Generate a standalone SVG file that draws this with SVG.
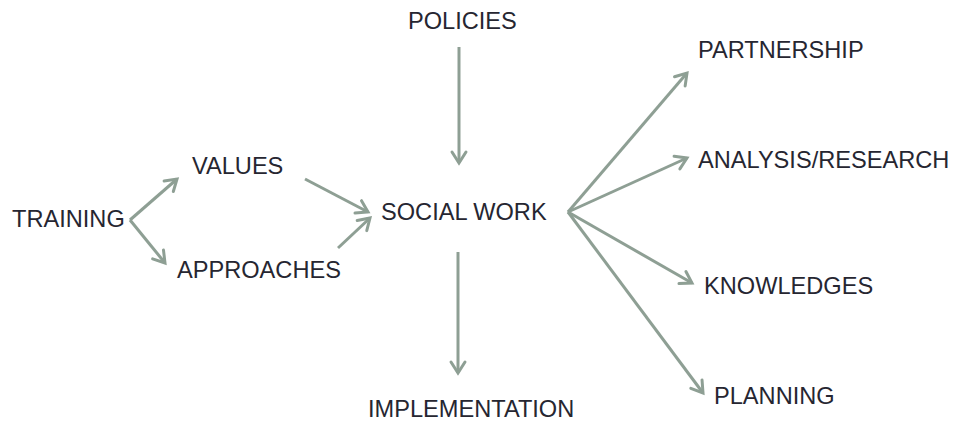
<svg xmlns="http://www.w3.org/2000/svg" width="953" height="421" viewBox="0 0 953 421">
  <style>
    .lbl { font-family: "Liberation Sans", Arial, sans-serif; font-size: 23.6px; fill: #262631; }
    .edge { fill: none; stroke: #8e9f94; stroke-width: 3; }
  </style>
  <defs>
    <marker id="chev" markerUnits="userSpaceOnUse" markerWidth="30" markerHeight="30" viewBox="-15 -15 30 30" refX="0" refY="0" orient="auto">
      <path d="M-11,-7 L0,0 L-11,7" fill="none" stroke="#8e9f94" stroke-width="3" stroke-linecap="round" stroke-linejoin="miter"/>
    </marker>
  </defs>
  <rect width="953" height="421" fill="#ffffff"/>

  <g id="connectors">
    <path class="edge" d="M130,220 L177,179" marker-end="url(#chev)"/>
    <path class="edge" d="M130,220 L165,263" marker-end="url(#chev)"/>
    <path class="edge" d="M305,179 L368,212" marker-end="url(#chev)"/>
    <path class="edge" d="M338,248 L370,218" marker-end="url(#chev)"/>
    <path class="edge" d="M459,47 L459,163" marker-end="url(#chev)"/>
    <path class="edge" d="M458,252 L458,373" marker-end="url(#chev)"/>
    <path class="edge" d="M568,212 L687,73" marker-end="url(#chev)"/>
    <path class="edge" d="M568,212 L687,158" marker-end="url(#chev)"/>
    <path class="edge" d="M568,212 L692,283" marker-end="url(#chev)"/>
    <path class="edge" d="M568,212 L703,393" marker-end="url(#chev)"/>
  </g>

  <g id="training"><text class="lbl" x="12" y="227">TRAINING</text></g>
  <g id="values"><text class="lbl" x="192" y="174">VALUES</text></g>
  <g id="approaches"><text class="lbl" x="177" y="278">APPROACHES</text></g>
  <g id="policies"><text class="lbl" x="408" y="29">POLICIES</text></g>
  <g id="social-work"><text class="lbl" x="381" y="220">SOCIAL WORK</text></g>
  <g id="implementation"><text class="lbl" x="368" y="417">IMPLEMENTATION</text></g>
  <g id="partnership"><text class="lbl" x="698" y="58">PARTNERSHIP</text></g>
  <g id="analysis-research"><text class="lbl" x="698" y="168">ANALYSIS/RESEARCH</text></g>
  <g id="knowledges"><text class="lbl" x="704" y="294">KNOWLEDGES</text></g>
  <g id="planning"><text class="lbl" x="714" y="404">PLANNING</text></g>
</svg>
